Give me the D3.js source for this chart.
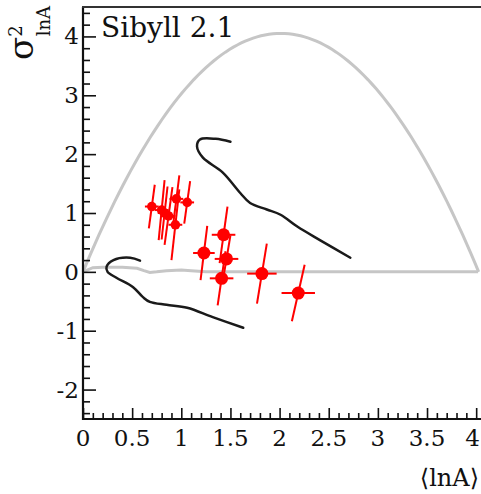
<!DOCTYPE html>
<html>
<head>
<meta charset="utf-8">
<script src="https://cdn.jsdelivr.net/npm/d3@7"></script>
<style>
  html, body { margin: 0; padding: 0; background: #fff; }
  svg { display: block; }
</style>
</head>
<body>
<svg id="chart" width="481" height="494"></svg>
<script>
// ---- data ----
const title = "Sibyll 2.1";
const xTickLabels = ["0", "0.5", "1", "1.5", "2", "2.5", "3", "3.5", "4"];
const yTickLabels = ["-2", "-1", "0", "1", "2", "3", "4"];

// ln of iron mass number: end point of the p–Fe mixing boundary
const lnFe = Math.log(56);
// sampled <lnA> positions for the upper (maximal variance) boundary
const boundaryLnA = d3.range(0, 101).map(i => lnFe * i / 100);

// lower (minimal variance) boundary
const minLnA  = [0, 0.10, 0.20, 0.40, 0.55, 0.62, 0.68, 0.75, 0.85, 1.00, 1.10, 1.25, 1.50, 2.00, 3.00, 4.02];
const minVar  = [0, 0.07, 0.08, 0.08, 0.06, 0.02, -0.01, 0.00, 0.02, 0.03, 0.02, 0.00, 0.00, 0.00, 0.00, 0.00];

// model prediction curves (upper and lower branch)
const modelUpperLnA = [1.50, 1.35, 1.19, 1.16, 1.22, 1.42, 1.60, 1.70, 1.87, 2.01, 2.18, 2.41, 2.72];
const modelUpperVar = [2.21, 2.26, 2.25, 2.13, 1.94, 1.69, 1.34, 1.17, 1.06, 0.97, 0.77, 0.54, 0.24];
const modelLowerLnA = [0.58, 0.48, 0.31, 0.24, 0.25, 0.34, 0.51, 0.61, 0.68, 0.85, 1.06, 1.32, 1.63];
const modelLowerVar = [0.19, 0.24, 0.20, 0.09, 0.00, -0.10, -0.26, -0.43, -0.51, -0.56, -0.61, -0.77, -0.95];

// measurements, set A
const aLnA     = [0.70, 0.80, 0.87, 0.83, 0.95, 1.06, 0.94];
const aVar     = [1.11, 1.05, 0.95, 1.00, 1.24, 1.18, 0.80];
const aLnAErr  = [0.07, 0.07, 0.07, 0.07, 0.07, 0.07, 0.07];
const aVarErr  = [0.37, 0.51, 0.49, 0.45, 0.40, 0.36, 0.60];
const aSlant   = [0.03, 0.03, 0.04, 0.03, 0.03, 0.03, 0.04];

// measurements, set B
const bLnA     = [1.23, 1.43, 1.46, 1.41, 1.82, 2.19];
const bVar     = [0.32, 0.63, 0.22, -0.11, -0.03, -0.36];
const bLnAErr  = [0.11, 0.12, 0.12, 0.12, 0.15, 0.17];
const bVarErr  = [0.46, 0.48, 0.40, 0.46, 0.51, 0.48];
const bSlant   = [0.034, 0.04, 0.04, 0.04, 0.05, 0.065];

// ---- layout ----
const W = 481;
const svg = d3.select("#chart");
const padL = 83, padR = 486, padT = 7, padB = 419;
const x = d3.scaleLinear().domain([0, 4.1]).range([padL, padR]);
const y = d3.scaleLinear().domain([-2.5, 4.5]).range([padB, padT]);

const line = d3.line().x(d => x(d[0])).y(d => y(d[1]));

// upper boundary: two-component p+Fe mixture
const upper = boundaryLnA.map(m => [m, m * (lnFe - m)]);
svg.append("path").attr("d", line(upper))
  .attr("fill", "none").attr("stroke", "#c6c6c6").attr("stroke-width", 3);
svg.append("path").attr("d", line(d3.zip(minLnA, minVar)))
  .attr("fill", "none").attr("stroke", "#c6c6c6").attr("stroke-width", 3);

// model curves
const smooth = d3.line().curve(d3.curveCatmullRom.alpha(0.5)).x(d => x(d[0])).y(d => y(d[1]));
[[modelUpperLnA, modelUpperVar], [modelLowerLnA, modelLowerVar]].forEach(([lx, ly]) => {
  svg.append("path").attr("d", smooth(d3.zip(lx, ly)))
    .attr("fill", "none").attr("stroke", "#1a1a1a").attr("stroke-width", 2.5)
    .attr("stroke-linecap", "round");
});

// measurements with tilted variance error bars
function drawSet(lnA, v, ex, ey, slant, r) {
  const g = svg.append("g");
  lnA.forEach((m, i) => {
    g.append("line")
      .attr("x1", x(m - ex[i])).attr("x2", x(m + ex[i]))
      .attr("y1", y(v[i])).attr("y2", y(v[i]))
      .attr("stroke", "#ff0000").attr("stroke-width", 2);
    g.append("line")
      .attr("x1", x(m - slant[i])).attr("y1", y(v[i] - ey[i]))
      .attr("x2", x(m + slant[i])).attr("y2", y(v[i] + ey[i]))
      .attr("stroke", "#ff0000").attr("stroke-width", 2);
  });
  lnA.forEach((m, i) => {
    g.append("circle").attr("cx", x(m)).attr("cy", y(v[i])).attr("r", r)
      .attr("fill", "#ff0000");
  });
}
drawSet(aLnA, aVar, aLnAErr, aVarErr, aSlant, 4.8);
drawSet(bLnA, bVar, bLnAErr, bVarErr, bSlant, 6.5);

// ---- axes (ticks point inward) ----
const xMajor = xTickLabels.map(Number);
const xMinor = d3.range(0, 41).map(i => i / 10).filter(v => Math.abs(v * 2 - Math.round(v * 2)) > 1e-6);
const yMajor = yTickLabels.map(Number);
const yMinor = d3.range(-12, 23).map(i => i / 5).filter(v => Math.abs(v - Math.round(v)) > 1e-6);

const xAxisMajor = d3.axisTop(x).tickValues(xMajor).tickSize(11).tickFormat("");
const xAxisMinor = d3.axisTop(x).tickValues(xMinor).tickSize(6).tickFormat("");
const yAxisMajor = d3.axisRight(y).tickValues(yMajor).tickSize(13).tickFormat("");
const yAxisMinor = d3.axisRight(y).tickValues(yMinor).tickSize(7).tickFormat("");

[xAxisMajor, xAxisMinor].forEach(a => {
  svg.append("g").attr("transform", `translate(0,${padB})`).call(a)
    .call(g => g.select(".domain").remove())
    .selectAll("line").attr("stroke", "#111").attr("stroke-width", 1.6);
});
[yAxisMajor, yAxisMinor].forEach(a => {
  svg.append("g").attr("transform", `translate(${padL},0)`).call(a)
    .call(g => g.select(".domain").remove())
    .selectAll("line").attr("stroke", "#111").attr("stroke-width", 1.6);
});

// frame
svg.append("line").attr("x1", padL).attr("x2", padL).attr("y1", padT).attr("y2", padB + 1)
  .attr("stroke", "#111").attr("stroke-width", 2.2);
svg.append("line").attr("x1", padL - 1).attr("x2", W).attr("y1", padB).attr("y2", padB)
  .attr("stroke", "#111").attr("stroke-width", 2.2);
svg.append("line").attr("x1", padL - 1).attr("x2", W).attr("y1", padT).attr("y2", padT)
  .attr("stroke", "#333").attr("stroke-width", 2);

// tick labels
const labelStyle = s => s.style("font-family", "\"DejaVu Serif\"").attr("fill", "#111");
const xLabels = svg.append("g").selectAll("text").data(xTickLabels).join("text")
  .attr("x", d => x(+d)).attr("y", 446)
  .attr("text-anchor", "middle").attr("font-size", 23).call(labelStyle).text(d => d);
// keep the last label inside the canvas
xLabels.each(function () {
  const b = this.getBBox();
  if (b.x + b.width > W - 1) this.setAttribute("x", +this.getAttribute("x") - (b.x + b.width - (W - 1)));
});
svg.append("g").selectAll("text").data(yTickLabels).join("text")
  .attr("x", 79).attr("y", d => y(+d) + 8)
  .attr("text-anchor", "end").attr("font-size", 23).call(labelStyle).text(d => d);

// axis titles
svg.append("text").attr("x", 479).attr("y", 486).attr("text-anchor", "end")
  .attr("font-size", 24).call(labelStyle).text("⟨lnA⟩");

const yt = svg.append("text").attr("transform", "translate(33,60) rotate(-90)").call(labelStyle);
yt.append("tspan").attr("font-size", 34).text("σ");
yt.append("tspan").attr("font-size", 18).attr("dy", -11).text("2");
yt.append("tspan").attr("font-size", 18).attr("dx", -11).attr("dy", 28).text("lnA");

// model label
svg.append("text").attr("x", 101).attr("y", 37).attr("font-size", 28).call(labelStyle).text(title);
</script>
</body>
</html>
